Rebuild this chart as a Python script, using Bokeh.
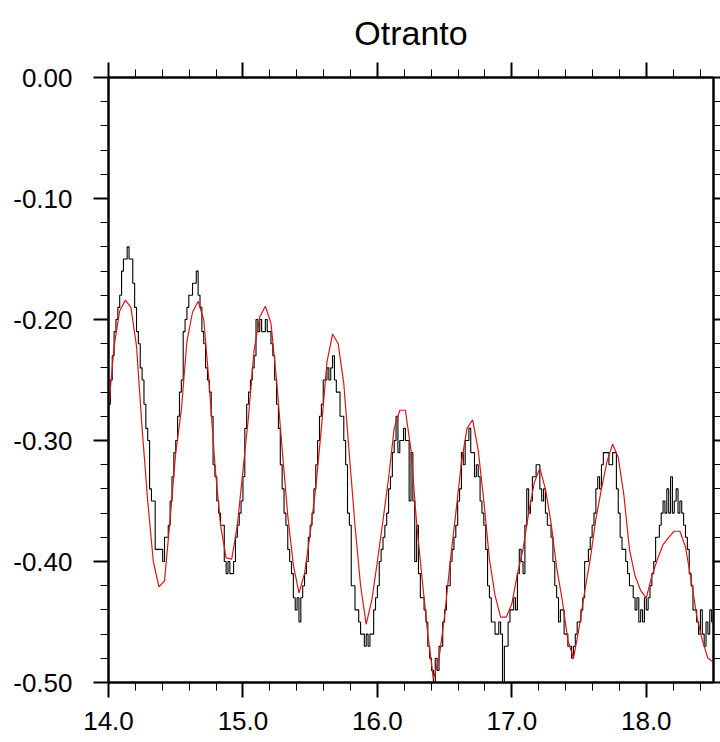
from bokeh.plotting import figure
from bokeh.models import Range1d, LinearAxis, FixedTicker, ColumnDataSource
from bokeh.embed import file_html
from bokeh.resources import INLINE

# ---- data -------------------------------------------------------------
title_text = "Otranto"

# observed sea level (black), sampled every 20 minutes from day 14.0
obs_start = 14.0
obs_step = 1.0 / 72.0
obs_values = [
    -0.27, -0.25, -0.23, -0.21, -0.20, -0.19, -0.18, -0.16, -0.15, -0.15, -0.14, -0.15, -0.15, -0.17, -0.19, -0.21, -0.22, -0.24,
    -0.25, -0.27, -0.29, -0.30, -0.34, -0.35, -0.35, -0.39, -0.39, -0.39, -0.39, -0.40, -0.38, -0.38, -0.37, -0.35, -0.33, -0.31,
    -0.30, -0.28, -0.26, -0.25, -0.21, -0.20, -0.19, -0.18, -0.18, -0.17, -0.17, -0.16, -0.18, -0.19, -0.21, -0.22, -0.24, -0.25,
    -0.26, -0.28, -0.32, -0.33, -0.35, -0.36, -0.37, -0.37, -0.40, -0.41, -0.40, -0.41, -0.41, -0.40, -0.38, -0.37, -0.36, -0.35,
    -0.33, -0.29, -0.27, -0.26, -0.25, -0.24, -0.23, -0.20, -0.21, -0.20, -0.21, -0.21, -0.20, -0.21, -0.21, -0.22, -0.23, -0.25,
    -0.27, -0.29, -0.32, -0.34, -0.36, -0.37, -0.39, -0.40, -0.41, -0.43, -0.44, -0.43, -0.45, -0.43, -0.42, -0.41, -0.40, -0.38,
    -0.37, -0.36, -0.34, -0.32, -0.30, -0.28, -0.27, -0.25, -0.25, -0.24, -0.25, -0.24, -0.23, -0.25, -0.26, -0.26, -0.28, -0.28,
    -0.30, -0.32, -0.36, -0.37, -0.42, -0.42, -0.44, -0.44, -0.45, -0.46, -0.46, -0.47, -0.46, -0.47, -0.46, -0.46, -0.44, -0.43,
    -0.42, -0.40, -0.39, -0.38, -0.37, -0.36, -0.34, -0.33, -0.31, -0.30, -0.28, -0.31, -0.30, -0.30, -0.29, -0.30, -0.30, -0.35,
    -0.31, -0.35, -0.40, -0.37, -0.41, -0.43, -0.43, -0.44, -0.45, -0.47, -0.48, -0.49, -0.50, -0.48, -0.49, -0.47, -0.47, -0.45,
    -0.44, -0.42, -0.42, -0.40, -0.39, -0.38, -0.37, -0.35, -0.34, -0.31, -0.32, -0.30, -0.30, -0.29, -0.31, -0.31, -0.33, -0.32,
    -0.33, -0.35, -0.36, -0.37, -0.39, -0.42, -0.43, -0.45, -0.45, -0.46, -0.46, -0.45, -0.46, -0.50, -0.47, -0.47, -0.45, -0.44,
    -0.44, -0.43, -0.44, -0.41, -0.39, -0.40, -0.41, -0.37, -0.34, -0.36, -0.35, -0.33, -0.33, -0.32, -0.32, -0.34, -0.35, -0.34,
    -0.36, -0.37, -0.37, -0.38, -0.40, -0.42, -0.43, -0.45, -0.44, -0.44, -0.46, -0.46, -0.47, -0.47, -0.48, -0.47, -0.46, -0.45,
    -0.45, -0.44, -0.43, -0.40, -0.40, -0.39, -0.38, -0.37, -0.36, -0.34, -0.33, -0.34, -0.32, -0.31, -0.31, -0.31, -0.32, -0.32,
    -0.31, -0.31, -0.34, -0.36, -0.38, -0.39, -0.39, -0.40, -0.41, -0.42, -0.42, -0.43, -0.44, -0.43, -0.45, -0.44, -0.45, -0.43,
    -0.44, -0.43, -0.42, -0.41, -0.40, -0.38, -0.38, -0.37, -0.36, -0.35, -0.36, -0.34, -0.36, -0.33, -0.36, -0.35, -0.34, -0.36,
    -0.35, -0.36, -0.37, -0.38, -0.39, -0.41, -0.42, -0.44, -0.44, -0.45, -0.46, -0.44, -0.46, -0.47, -0.45, -0.46, -0.44, -0.45,
    -0.45,
]

# model sea level (red), hourly from day 14.0
model_start = 14.0
model_step = 1.0 / 24.0
model_values = [
    -0.275, -0.222, -0.193, -0.184, -0.190, -0.222, -0.290, -0.350, -0.400, -0.421, -0.416, -0.365,
    -0.310, -0.275, -0.218, -0.194, -0.185, -0.200, -0.255, -0.320, -0.370, -0.397, -0.398, -0.370,
    -0.325, -0.280, -0.225, -0.198, -0.189, -0.203, -0.250, -0.307, -0.362, -0.403, -0.426, -0.410,
    -0.377, -0.339, -0.290, -0.235, -0.212, -0.220, -0.253, -0.312, -0.370, -0.420, -0.452, -0.432,
    -0.400, -0.366, -0.331, -0.290, -0.275, -0.275, -0.308, -0.368, -0.415, -0.460, -0.497, -0.480,
    -0.445, -0.400, -0.360, -0.318, -0.290, -0.283, -0.308, -0.350, -0.398, -0.428, -0.446, -0.446,
    -0.435, -0.410, -0.390, -0.360, -0.335, -0.323, -0.340, -0.368, -0.405, -0.432, -0.465, -0.480,
    -0.455, -0.425, -0.398, -0.365, -0.340, -0.317, -0.303, -0.314, -0.345, -0.390, -0.412, -0.424,
    -0.430, -0.412, -0.398, -0.386, -0.380, -0.375, -0.375, -0.388, -0.415, -0.445, -0.465, -0.480,
    -0.483,
]

x_ticks = [14.0, 15.0, 16.0, 17.0, 18.0]
x_tick_labels = ["14.0", "15.0", "16.0", "17.0", "18.0"]
x_minor = [14.2, 14.4, 14.6, 14.8, 15.2, 15.4, 15.6, 15.8, 16.2, 16.4, 16.6, 16.8,
           17.2, 17.4, 17.6, 17.8, 18.2, 18.4]
y_ticks = [-0.5, -0.4, -0.3, -0.2, -0.1, 0.0]
y_tick_labels = ["-0.50", "-0.40", "-0.30", "-0.20", "-0.10", "0.00"]
y_minor = [-0.48, -0.46, -0.44, -0.42, -0.38, -0.36, -0.34, -0.32, -0.28, -0.26, -0.24, -0.22,
           -0.18, -0.16, -0.14, -0.12, -0.08, -0.06, -0.04, -0.02]

x_min, x_max = 14.0, 18.5
y_min, y_max = -0.5, 0.0

# ---- build ------------------------------------------------------------
obs_x = [obs_start + i * obs_step for i in range(len(obs_values))]
model_x = [model_start + i * model_step for i in range(len(model_values))]
obs_src = ColumnDataSource(dict(x=obs_x, y=obs_values))
model_src = ColumnDataSource(dict(x=model_x, y=model_values))

FONT = "Liberation Sans"

p = figure(
    width=720, height=742,
    x_range=Range1d(x_min, x_max), y_range=Range1d(y_min, y_max),
    output_backend="svg", toolbar_location=None,
    x_axis_location=None, y_axis_location=None,
    min_border_left=108, min_border_right=7, min_border_top=77, min_border_bottom=60,
    title=title_text,
)
p.title.align = "center"
p.title.text_font = FONT
p.title.text_font_size = "34px"
p.title.text_font_style = "normal"
p.title.text_color = "black"
p.title.standoff = 22

p.xgrid.visible = False
p.ygrid.visible = False
p.outline_line_color = "black"
p.outline_line_width = 2
p.background_fill_color = "white"
p.border_fill_color = "white"

x_labels = {t: l for t, l in zip(x_ticks, x_tick_labels)}
y_labels = {t: l for t, l in zip(y_ticks, y_tick_labels)}
x_blank = {t: "" for t in x_ticks}
y_blank = {t: "" for t in y_ticks}


def style_axis(ax, major_out, minor_out, font_size, standoff):
    ax.axis_line_color = "black"
    ax.axis_line_width = 2
    ax.major_tick_in = 0
    ax.minor_tick_in = 0
    ax.major_tick_out = major_out
    ax.minor_tick_out = minor_out
    ax.major_tick_line_width = 2
    ax.minor_tick_line_width = 1
    ax.major_tick_line_color = "black"
    ax.minor_tick_line_color = "black"
    ax.major_label_text_font = FONT
    ax.major_label_text_color = "black"
    ax.major_label_standoff = standoff
    ax.major_label_text_font_size = font_size


bottom = LinearAxis(ticker=FixedTicker(ticks=x_ticks, minor_ticks=x_minor),
                    major_label_overrides=x_labels)
style_axis(bottom, 15, 8, "26px", 14)
p.add_layout(bottom, "below")

top = LinearAxis(ticker=FixedTicker(ticks=x_ticks, minor_ticks=x_minor),
                 major_label_overrides=x_blank)
style_axis(top, 15, 8, "10px", 0)
p.add_layout(top, "above")

left = LinearAxis(ticker=FixedTicker(ticks=y_ticks, minor_ticks=y_minor),
                  major_label_overrides=y_labels)
style_axis(left, 15, 8, "26px", 21)
p.add_layout(left, "left")

right = LinearAxis(ticker=FixedTicker(ticks=y_ticks, minor_ticks=y_minor),
                   major_label_overrides=y_blank)
style_axis(right, 7, 7, "10px", 0)
p.add_layout(right, "right")

p.step("x", "y", source=obs_src, mode="after", line_color="black", line_width=1.1)
p.line("x", "y", source=model_src, line_color="#d81818", line_width=1.2)

open("out.html", "w").write(file_html(p, INLINE))
